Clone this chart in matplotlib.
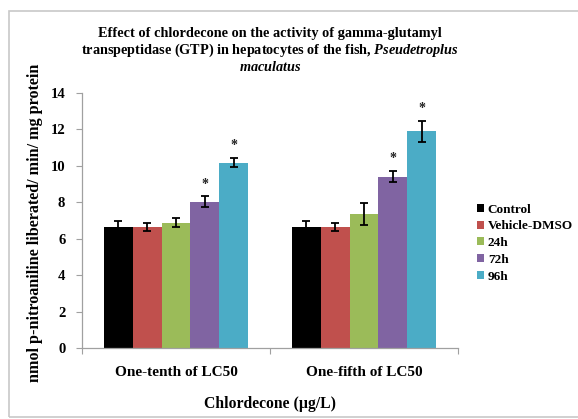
import matplotlib
matplotlib.use("Agg")
import matplotlib.pyplot as plt
import numpy as np
from matplotlib.patches import Rectangle

plt.rcParams['font.family'] = ['Liberation Serif', 'DejaVu Serif']
plt.rcParams['font.weight'] = 'bold'
plt.rcParams['mathtext.fontset'] = 'custom'
plt.rcParams['mathtext.rm'] = 'Liberation Serif:bold'
plt.rcParams['mathtext.it'] = 'Liberation Serif:italic'
plt.rcParams['mathtext.bf'] = 'Liberation Serif:bold'

categories = ["One-tenth of LC50", "One-fifth of LC50"]
series = ["Control", "Vehicle-DMSO", "24h", "72h", "96h"]
colors = ["#000000", "#C0504D", "#9BBB59", "#8064A2", "#4BACC6"]
values = {
    "Control":      [6.62, 6.62],
    "Vehicle-DMSO": [6.65, 6.65],
    "24h":          [6.88, 7.36],
    "72h":          [8.04, 9.41],
    "96h":          [10.18, 11.90],
}
errors = {
    "Control":      [0.35, 0.35],
    "Vehicle-DMSO": [0.20, 0.20],
    "24h":          [0.24, 0.62],
    "72h":          [0.28, 0.32],
    "96h":          [0.27, 0.58],
}
significant = {
    "Control":      [False, False],
    "Vehicle-DMSO": [False, False],
    "24h":          [False, False],
    "72h":          [True, True],
    "96h":          [True, True],
}
yticks = [0, 2, 4, 6, 8, 10, 12, 14]

fig = plt.figure(figsize=(5.78, 4.19), dpi=100)
# chart border
fig.patches.append(Rectangle((9/578, 2/419), 1.0, 406/419, transform=fig.transFigure,
                             fill=False, edgecolor="#C8C8C8", linewidth=1.2))

ax = fig.add_axes([82/578, 1-348/419, 376/578, 255/419])
x = np.arange(len(categories))
w = 0.1532
n = len(series)
for i, s in enumerate(series):
    xs = x + (i - (n-1)/2) * w
    ax.bar(xs, values[s], width=w, color=colors[i], label=s, zorder=2)
    ax.errorbar(xs, values[s], yerr=errors[s], fmt='none', ecolor='black',
                elinewidth=1.3, capsize=2.8, capthick=1.3, zorder=3)
    for j in range(len(categories)):
        if significant[s][j]:
            ax.text(xs[j], values[s][j] + errors[s][j] + 0.3, "*", ha='center', va='bottom',
                    fontsize=10, fontweight='bold', color='#222222')

ax.set_xlim(-0.5, 1.5)
ax.set_ylim(0, 14)
ax.set_yticks(yticks)
ax.set_yticklabels([str(t) for t in yticks], fontsize=10.5, fontweight='bold')
ax.set_xticks([-0.5, 0.5, 1.5], minor=False)
ax.set_xticklabels([])
ax.set_xticks(x, minor=True)
ax.set_xticklabels(categories, minor=True, fontsize=11, fontweight='bold')
ax.tick_params(axis='x', which='minor', length=0, pad=13)
ax.tick_params(axis='x', which='major', length=4, color='#A0A0A0', direction='out')
ax.tick_params(axis='y', length=4, color='#A0A0A0', direction='out', pad=8)
for sp in ['top', 'right']:
    ax.spines[sp].set_visible(False)
for sp in ['left', 'bottom']:
    ax.spines[sp].set_color('#A0A0A0')
    ax.spines[sp].set_linewidth(0.9)

ax.set_ylabel("nmol p-nitroaniline liberated/ min/ mg protein", fontsize=11.6, fontweight='bold')
ax.yaxis.set_label_coords(-0.105, 0.49)
ax.set_xlabel("Chlordecone (\u00b5g/L)", fontsize=11.3, fontweight='bold', labelpad=12)

fig.text(270/578, 1-33/419, "Effect of chlordecone on the activity of gamma-glutamyl",
         ha='center', va='center', fontsize=10.3, fontweight='bold')
fig.text(270/578, 1-50/419,
         r"transpeptidase (GTP) in hepatocytes of the fish, $\mathit{Pseudetroplus}$",
         ha='center', va='center', fontsize=10.3, fontweight='bold')
fig.text(270/578, 1-67/419, r"$\mathit{maculatus}$",
         ha='center', va='center', fontsize=10.3)

leg = ax.legend(loc='upper left', bbox_to_anchor=(470/578, 1-197/419), bbox_transform=fig.transFigure,
                frameon=False, fontsize=9.5, handlelength=0.55, handleheight=0.55, handletextpad=0.3,
                labelspacing=0.36, borderpad=0)

fig.savefig("out.png", dpi=100)
